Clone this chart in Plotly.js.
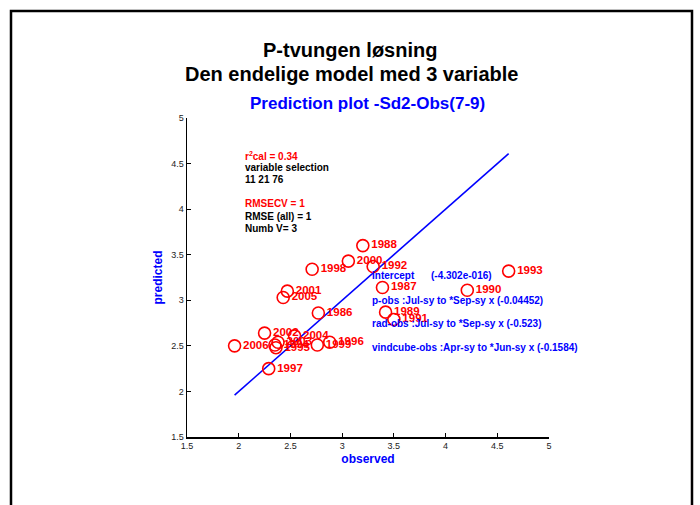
<!DOCTYPE html>
<html>
<head>
<meta charset="utf-8">
<script src="https://cdn.plot.ly/plotly-3.0.1.min.js"></script>
<style>html,body{margin:0;padding:0;background:#fff;}#chart{width:700px;height:505px;}</style>
</head>
<body>
<div id="chart"></div>
<script>
// Data
const years = ["1986","1987","1988","1989","1990","1991","1992","1993","1994","1995","1996","1997","1998","1999","2000","2001","2002","2003","2004","2005","2006"];
const observed = [2.77,3.39,3.20,3.42,4.21,3.50,3.30,4.61,2.35,2.36,2.88,2.29,2.71,2.76,3.06,2.47,2.25,2.38,2.54,2.43,1.96];
const predicted = [2.86,3.14,3.60,2.87,3.11,2.79,3.37,3.32,2.51,2.48,2.54,2.25,3.34,2.51,3.43,3.10,2.64,2.54,2.61,3.03,2.50];
const xTicks = [1.5,2,2.5,3,3.5,4,4.5,5];
const yTicks = [1.5,2,2.5,3,3.5,4,4.5,5];

const statLines = [
  {text: "r<sup>2</sup>cal = 0.34", color: "#ff0000"},
  {text: "variable selection", color: "#000000"},
  {text: "11 21 76", color: "#000000"},
  {text: "RMSECV = 1", color: "#ff0000"},
  {text: "RMSE (all) = 1", color: "#000000"},
  {text: "Numb V= 3", color: "#000000"}
];
const coefLines = [
  "Intercept",
  "p-obs :Jul-sy to *Sep-sy x (-0.04452)",
  "rad-obs :Jul-sy to *Sep-sy x (-0.523)",
  "vindcube-obs :Apr-sy to *Jun-sy x (-0.1584)"
];
const interceptValue = "(-4.302e-016)";

const lo = Math.min(...observed), hi = Math.max(...observed);

const F = "Arial, 'Liberation Sans', Helvetica, sans-serif";

const traces = [
  {
    x: [lo, hi], y: [lo, hi], mode: "lines", type: "scatter",
    line: {color: "#0000ff", width: 1.6}, hoverinfo: "skip", showlegend: false
  },
  {
    x: observed, y: predicted, text: years.map(y => "<b>" + y + "</b>"), mode: "markers+text", type: "scatter",
    marker: {symbol: "circle-open", size: 12, color: "#ff0000", line: {width: 1.6, color: "#ff0000"}},
    textposition: "middle right",
    textfont: {family: F, size: 11.5, color: "#ff0000"},
    showlegend: false
  }
];

// pixel -> paper helpers for layout placement
const L = 187, R = 549, T = 118, B = 437;
const px = v => (v - L) / (R - L);
const py = v => (B - v) / (B - T);

const statY = [156, 167, 179.5, 203, 216, 228];
const coefY = [275.5, 300.5, 323.5, 347.5];

const annotations = [];
statLines.forEach((s, i) => annotations.push({
  xref: "paper", yref: "paper", x: px(244), y: py(statY[i]), xanchor: "left", yanchor: "middle",
  text: "<b>" + s.text + "</b>", showarrow: false, font: {family: F, size: 10, color: s.color}, borderpad: 0
}));
coefLines.forEach((s, i) => annotations.push({
  xref: "paper", yref: "paper", x: px(371), y: py(coefY[i]), xanchor: "left", yanchor: "middle",
  text: "<b>" + s + "</b>", showarrow: false, font: {family: F, size: 10, color: "#0000ff"}, borderpad: 0
}));
annotations.push({
  xref: "paper", yref: "paper", x: px(430), y: py(coefY[0]), xanchor: "left", yanchor: "middle",
  text: "<b>" + interceptValue + "</b>", showarrow: false, font: {family: F, size: 10, color: "#0000ff"}, borderpad: 0
});
annotations.push({
  xref: "paper", yref: "paper", x: px(350), y: py(50.5), xanchor: "center", yanchor: "middle",
  text: "<b>P-tvungen løsning</b>", showarrow: false, font: {family: F, size: 20, color: "#000000"}
});
annotations.push({
  xref: "paper", yref: "paper", x: px(351), y: py(74.5), xanchor: "center", yanchor: "middle",
  text: "<b>Den endelige model med 3 variable</b>", showarrow: false, font: {family: F, size: 20, color: "#000000"}
});
annotations.push({
  xref: "paper", yref: "paper", x: px(367.5), y: py(103), xanchor: "center", yanchor: "middle",
  text: "<b>Prediction plot -Sd2-Obs(7-9)</b>", showarrow: false, font: {family: F, size: 17, color: "#0000ff"}
});

const layout = {
  width: 700, height: 505,
  margin: {l: L, r: 700 - R, t: T, b: 505 - B, pad: 0},
  paper_bgcolor: "#ffffff", plot_bgcolor: "#ffffff",
  showlegend: false,
  xaxis: {
    range: [1.5, 5], tickvals: xTicks, ticktext: xTicks.map(String),
    showgrid: false, zeroline: false, showline: true, linecolor: "#000000", linewidth: 1.5,
    ticks: "inside", ticklen: 4, tickwidth: 1, tickcolor: "#000000",
    tickfont: {family: F, size: 9, color: "#222222"},
    title: {text: "<b>observed</b>", font: {family: F, size: 12, color: "#0000ff"}, standoff: 4},
    automargin: false, fixedrange: true
  },
  yaxis: {
    range: [1.5, 5], tickvals: yTicks, ticktext: yTicks.map(String),
    showgrid: false, zeroline: false, showline: true, linecolor: "#000000", linewidth: 1.5,
    ticks: "inside", ticklen: 4, tickwidth: 1, tickcolor: "#000000",
    tickfont: {family: F, size: 9, color: "#222222"},
    title: {text: "<b>predicted</b>", font: {family: F, size: 12, color: "#0000ff"}, standoff: 6},
    automargin: false, fixedrange: true
  },
  annotations: annotations,
  shapes: [{
    type: "path", xref: "paper", yref: "paper",
    path: "M " + px(11) + " " + py(520) + " L " + px(11) + " " + py(11) + " L " + px(692) + " " + py(11) + " L " + px(692) + " " + py(520),
    line: {color: "#000000", width: 2.5}
  }]
};

Plotly.newPlot("chart", traces, layout, {displayModeBar: false, staticPlot: true});
</script>
</body>
</html>
